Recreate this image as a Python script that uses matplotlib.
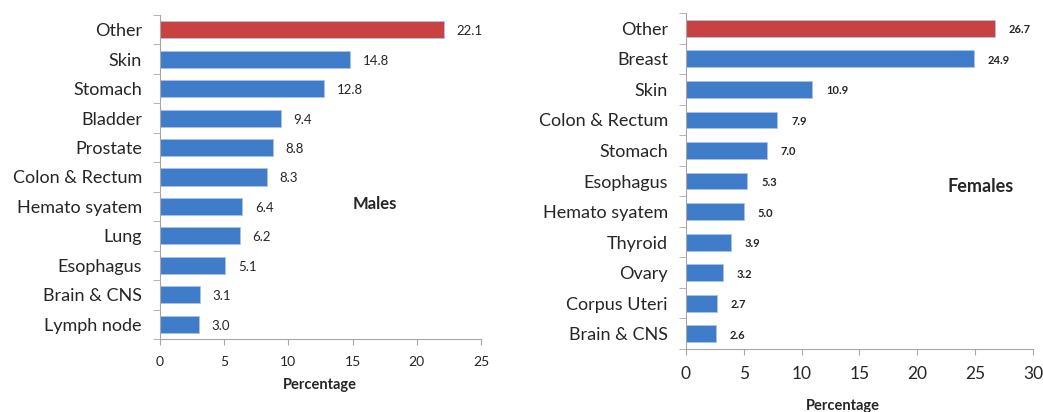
import matplotlib
matplotlib.use("Agg")
from matplotlib import pyplot as plt
import numpy as np

plt.rcParams['font.family'] = ['Lato', 'DejaVu Sans']

# 数据
male_sites = ["Other", "Skin", "Stomach", "Bladder", "Prostate", "Colon & Rectum",
              "Hemato syatem", "Lung", "Esophagus", "Brain & CNS", "Lymph node"]
male_pct = [22.1, 14.8, 12.8, 9.4, 8.8, 8.3, 6.4, 6.2, 5.1, 3.1, 3.0]

female_sites = ["Other", "Breast", "Skin", "Colon & Rectum", "Stomach", "Esophagus",
                "Hemato syatem", "Thyroid", "Ovary", "Corpus Uteri", "Brain & CNS"]
female_pct = [26.7, 24.9, 10.9, 7.9, 7.0, 5.3, 5.0, 3.9, 3.2, 2.7, 2.6]

red = "#C94242"
blue = "#3F7CC9"
grey = "#A6A6A6"
text_c = "#262626"

fig = plt.figure(figsize=(10.43, 4.12), dpi=100)


def draw(ax, sites, pct, xmax, bar_h, lab_size, xt_size, val_size, val_weight):
    y = np.arange(len(sites))
    colors = [red] + [blue] * (len(sites) - 1)
    ax.barh(y, pct, height=bar_h, color=colors, edgecolor="#A9C3E6", linewidth=0.6)
    ax.set_ylim(len(sites) - 0.5, -0.5)
    ax.set_xlim(0, xmax)
    ax.set_xticks(np.arange(0, xmax + 1, 5))
    ax.set_yticks(y)
    ax.set_yticklabels(sites, fontsize=lab_size, color=text_c)
    ax.set_yticks(np.arange(-0.5, len(sites), 1), minor=True)
    ax.tick_params(axis="y", which="major", length=0, pad=13)
    ax.tick_params(axis="y", which="minor", length=5, color=grey, direction="out")
    ax.tick_params(axis="x", length=4, color=grey, labelsize=xt_size, labelcolor=text_c, pad=8)
    for s in ["top", "right"]:
        ax.spines[s].set_visible(False)
    for s in ["left", "bottom"]:
        ax.spines[s].set_color(grey)
    for yi, v in zip(y, pct):
        ax.text(v + xmax * 0.04, yi + 0.05, "{:.1f}".format(v), va="center", ha="left",
                fontsize=val_size, fontweight=val_weight, color=text_c)


ax1 = fig.add_axes([0.1534, 0.1772, 0.3078, 0.7864])
draw(ax1, male_sites, male_pct, 25, 0.58, 13, 10, 9.5, "normal")
ax1.text(0.67, 0.417, "Males", transform=ax1.transAxes, ha="center", va="center",
         fontsize=12, fontweight="bold", color=text_c)
fig.text(320 / 1043, 1 - 385 / 412, "Percentage", ha="center", va="center",
         fontsize=10.5, fontweight="bold", color=text_c)

ax2 = fig.add_axes([0.6577, 0.1529, 0.3327, 0.8155])
draw(ax2, female_sites, female_pct, 30, 0.55, 13, 12.5, 8, "bold")
ax2.text(0.85, 0.485, "Females", transform=ax2.transAxes, ha="center", va="center",
         fontsize=13, fontweight="bold", color=text_c)
fig.text(843 / 1043, 1 - 406 / 412, "Percentage", ha="center", va="center",
         fontsize=10.5, fontweight="bold", color=text_c)

plt.savefig("out.png", dpi=100)
